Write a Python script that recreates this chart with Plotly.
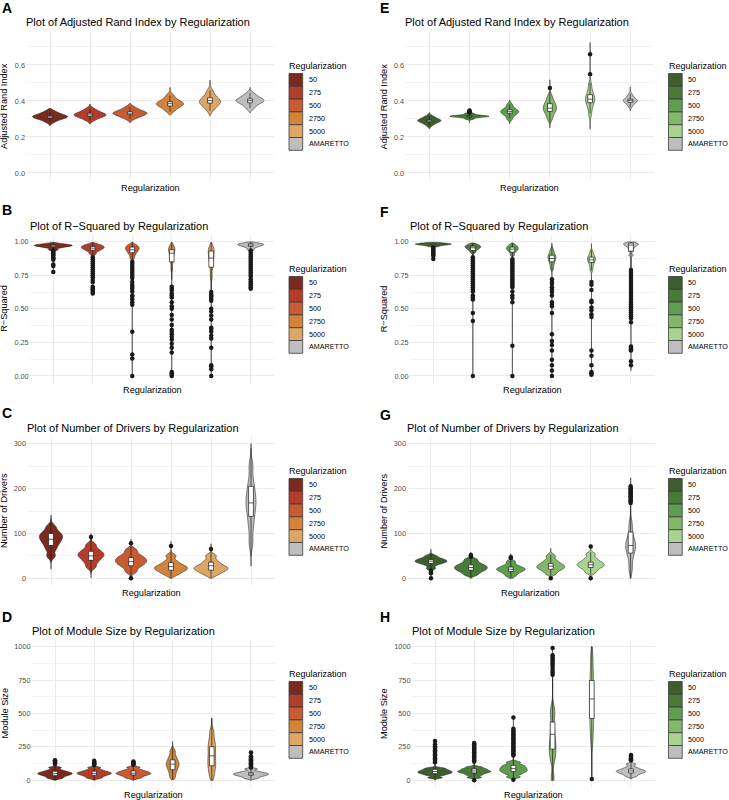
import plotly.graph_objects as go

W, H = 729, 800
FONT = "Liberation Sans, Arial, Helvetica, sans-serif"

CATEGORIES = ["50", "275", "500", "2750", "5000", "AMARETTO"]
RED_FILLS = ["#7A2A1F", "#B43C2A", "#C95B34", "#D4843A", "#DEA665", "#BEBEBE"]
GREEN_FILLS = ["#3E5E2F", "#487B35", "#5F9D4F", "#83B86A", "#A7D48F", "#BEBEBE"]

# Values. Samples shape each violin, SPAN is the
# min/max of each group, BOX is (lower whisker, q1, median, q3, upper whisker).

# A - Adjusted Rand Index, red runs
ARI_RED_SAMPLES = [
    [0.285, 0.298, 0.305, 0.310, 0.313, 0.316, 0.322, 0.330, 0.342],
    [0.295, 0.308, 0.315, 0.320, 0.323, 0.327, 0.333, 0.342, 0.355],
    [0.303, 0.315, 0.323, 0.328, 0.332, 0.336, 0.342, 0.350, 0.365],
    [0.345, 0.362, 0.372, 0.380, 0.385, 0.390, 0.397, 0.410, 0.430],
    [0.350, 0.370, 0.382, 0.390, 0.398, 0.405, 0.415, 0.430, 0.455],
    [0.360, 0.378, 0.390, 0.397, 0.402, 0.407, 0.414, 0.425, 0.440],
]
ARI_RED_SPAN = [(0.262, 0.358), (0.272, 0.383), (0.280, 0.386), (0.322, 0.476), (0.318, 0.516), (0.335, 0.475)]
ARI_RED_BOX = [(0.288, 0.305, 0.312, 0.318, 0.337), (0.292, 0.315, 0.323, 0.332, 0.357),
               (0.300, 0.324, 0.332, 0.341, 0.366), (0.340, 0.372, 0.385, 0.396, 0.430),
               (0.345, 0.388, 0.403, 0.418, 0.460), (0.360, 0.390, 0.402, 0.412, 0.445)]
ARI_RED_OUTLIERS = [[], [], [], [], [], []]

# E - Adjusted Rand Index, green runs
ARI_GREEN_SAMPLES = [
    [0.265, 0.277, 0.284, 0.288, 0.291, 0.294, 0.298, 0.305, 0.315],
    [0.300, 0.308, 0.312, 0.314, 0.315, 0.316, 0.318, 0.322, 0.330],
    [0.300, 0.318, 0.328, 0.335, 0.340, 0.345, 0.352, 0.362, 0.380],
    [0.300, 0.325, 0.340, 0.352, 0.362, 0.372, 0.385, 0.400, 0.425],
    [0.330, 0.365, 0.385, 0.400, 0.410, 0.420, 0.435, 0.455, 0.490],
    [0.370, 0.385, 0.393, 0.398, 0.402, 0.406, 0.412, 0.420, 0.435],
]
ARI_GREEN_SPAN = [(0.245, 0.335), (0.280, 0.350), (0.275, 0.405), (0.250, 0.518), (0.243, 0.725), (0.345, 0.478)]
ARI_GREEN_BOX = [(0.266, 0.284, 0.290, 0.296, 0.314), (0.300, 0.311, 0.315, 0.319, 0.330),
                 (0.305, 0.332, 0.342, 0.352, 0.380), (0.280, 0.342, 0.360, 0.385, 0.450),
                 (0.330, 0.390, 0.410, 0.435, 0.500), (0.365, 0.392, 0.402, 0.410, 0.440)]
ARI_GREEN_OUTLIERS = [[], [0.336, 0.340, 0.344, 0.347], [], [0.472], [0.548, 0.659], []]

# B - R-Squared, red runs
RSQ_RED_SAMPLES = [
    [0.940, 0.955, 0.962, 0.967, 0.970, 0.973, 0.976, 0.980, 0.986],
    [0.910, 0.930, 0.940, 0.948, 0.954, 0.960, 0.965, 0.972, 0.980],
    [0.880, 0.905, 0.920, 0.932, 0.942, 0.950, 0.958, 0.966, 0.978],
    [0.800, 0.850, 0.880, 0.900, 0.920, 0.935, 0.945, 0.955, 0.970],
    [0.740, 0.800, 0.840, 0.870, 0.890, 0.910, 0.930, 0.945, 0.960],
    [0.940, 0.955, 0.965, 0.970, 0.975, 0.978, 0.982, 0.986, 0.990],
]
RSQ_RED_SPAN = [(0.77, 0.995), (0.615, 0.995), (0.0, 0.995), (0.0, 0.995), (0.0, 0.995), (0.65, 0.998)]
RSQ_RED_BOX = [(0.940, 0.962, 0.970, 0.978, 0.995), (0.895, 0.937, 0.952, 0.965, 0.992),
               (0.860, 0.918, 0.940, 0.960, 0.995), (0.720, 0.850, 0.915, 0.940, 0.995),
               (0.630, 0.810, 0.878, 0.930, 0.995), (0.940, 0.965, 0.975, 0.985, 0.998)]
RSQ_RED_OUTLIERS = [
    [0.935, 0.925, 0.915, 0.905, 0.895, 0.885, 0.875, 0.865, 0.83, 0.82, 0.775],
    [0.885, 0.87, 0.855, 0.84, 0.825, 0.81, 0.795, 0.78, 0.765, 0.75, 0.735, 0.715, 0.70,
     0.665, 0.655, 0.645, 0.635, 0.625, 0.615],
    [0.85, 0.835, 0.82, 0.805, 0.79, 0.775, 0.76, 0.745, 0.73, 0.70, 0.68, 0.665, 0.65,
     0.63, 0.60, 0.59, 0.57, 0.55, 0.53, 0.33, 0.16, 0.13, 0.0],
    [0.665, 0.65, 0.635, 0.615, 0.60, 0.585, 0.55, 0.52, 0.50, 0.455, 0.42, 0.38, 0.345,
     0.33, 0.31, 0.29, 0.27, 0.24, 0.21, 0.175, 0.03, 0.02, 0.01, 0.0],
    [0.625, 0.61, 0.60, 0.59, 0.575, 0.56, 0.50, 0.48, 0.45, 0.42, 0.36, 0.35, 0.33, 0.30,
     0.28, 0.21, 0.08, 0.07, 0.05, 0.0],
    [0.935, 0.92, 0.905, 0.89, 0.875, 0.86, 0.845, 0.83, 0.815, 0.80, 0.785, 0.77, 0.755,
     0.74, 0.72, 0.705, 0.69, 0.675, 0.66, 0.65],
]

# F - R-Squared, green runs
RSQ_GREEN_SAMPLES = [
    [0.965, 0.972, 0.976, 0.979, 0.981, 0.983, 0.985, 0.988, 0.992],
    [0.920, 0.935, 0.945, 0.952, 0.958, 0.963, 0.968, 0.974, 0.982],
    [0.900, 0.920, 0.932, 0.940, 0.947, 0.953, 0.960, 0.968, 0.978],
    [0.800, 0.830, 0.850, 0.865, 0.877, 0.888, 0.900, 0.915, 0.940],
    [0.790, 0.820, 0.840, 0.855, 0.865, 0.875, 0.887, 0.900, 0.925],
    [0.900, 0.930, 0.950, 0.962, 0.972, 0.978, 0.983, 0.988, 0.993],
]
RSQ_GREEN_SPAN = [(0.87, 0.995), (0.0, 0.99), (0.0, 0.99), (0.0, 0.99), (0.0, 0.985), (0.04, 0.998)]
RSQ_GREEN_BOX = [(0.962, 0.976, 0.981, 0.986, 0.995), (0.900, 0.935, 0.955, 0.967, 0.990),
                 (0.880, 0.922, 0.945, 0.960, 0.990), (0.780, 0.850, 0.875, 0.900, 0.970),
                 (0.785, 0.845, 0.865, 0.885, 0.940), (0.800, 0.930, 0.975, 0.990, 0.998)]
RSQ_GREEN_OUTLIERS = [
    [0.955, 0.945, 0.935, 0.925, 0.915, 0.905, 0.895, 0.872],
    [0.885, 0.87, 0.855, 0.84, 0.825, 0.81, 0.795, 0.78, 0.765, 0.75, 0.735, 0.72, 0.705,
     0.69, 0.675, 0.66, 0.645, 0.63, 0.60, 0.585, 0.57, 0.47, 0.41, 0.0],
    [0.87, 0.855, 0.84, 0.825, 0.81, 0.795, 0.78, 0.765, 0.75, 0.735, 0.72, 0.705, 0.69,
     0.675, 0.66, 0.63, 0.60, 0.58, 0.55, 0.225, 0.0],
    [0.72, 0.70, 0.685, 0.66, 0.645, 0.625, 0.60, 0.55, 0.53, 0.52, 0.47, 0.31, 0.26, 0.23,
     0.19, 0.12, 0.08, 0.04, 0.0],
    [0.70, 0.68, 0.64, 0.56, 0.55, 0.51, 0.49, 0.46, 0.44, 0.19, 0.15, 0.08, 0.03, 0.02, 0.01],
    [0.79, 0.775, 0.76, 0.745, 0.73, 0.715, 0.70, 0.685, 0.67, 0.655, 0.64, 0.625, 0.61,
     0.595, 0.58, 0.565, 0.55, 0.535, 0.52, 0.505, 0.49, 0.475, 0.46, 0.445, 0.43, 0.40,
     0.22, 0.21, 0.20, 0.19, 0.11, 0.08],
]

# C - Number of Drivers, red runs
DRV_RED_SAMPLES = [
    [50, 65, 75, 82, 88, 93, 98, 104, 115],
    [25, 35, 42, 47, 51, 55, 59, 65, 75],
    [15, 25, 31, 35, 39, 43, 47, 53, 63],
    [8, 14, 18, 21, 24, 27, 31, 38, 50],
    [8, 14, 18, 21, 24, 27, 32, 39, 50],
    [80, 115, 138, 155, 168, 180, 195, 215, 250],
]
DRV_RED_SPAN = [(20, 141), (1, 100), (0, 87), (0, 82), (0, 77), (27, 300)]
DRV_RED_BOX = [(35, 73, 87, 100, 135), (12, 40, 50, 60, 88), (3, 28, 37, 46, 72),
               (1, 18, 26, 35, 60), (1, 18, 28, 36, 60), (50, 138, 168, 205, 290)]
DRV_RED_OUTLIERS = [[], [92], [78, 0], [72], [65], []]

# G - Number of Drivers, green runs
DRV_GREEN_SAMPLES = [
    [22, 30, 34, 36, 38, 40, 42, 45, 50],
    [8, 14, 18, 21, 24, 27, 30, 35, 42],
    [5, 11, 15, 18, 20, 22, 25, 29, 37],
    [10, 17, 21, 24, 27, 30, 34, 40, 50],
    [13, 20, 25, 28, 31, 34, 38, 44, 54],
    [20, 45, 60, 68, 75, 82, 95, 120, 190],
]
DRV_GREEN_SPAN = [(0, 65), (0, 58), (0, 55), (0, 67), (0, 75), (0, 224)]
DRV_GREEN_BOX = [(20, 33, 38, 42, 55), (2, 18, 24, 30, 46), (1, 15, 20, 25, 40),
                 (2, 20, 27, 33, 52), (6, 24, 30, 36, 58), (0, 56, 73, 103, 165)]
DRV_GREEN_OUTLIERS = [[17, 14, 11, 0], [48, 50, 52], [45, 47], [0], [71, 0],
                      [168, 171, 174, 177, 180, 183, 186, 189, 192, 195, 198, 201, 205]]

# D - Module Size, red runs
MOD_RED_SAMPLES = [
    [15, 28, 38, 45, 51, 57, 64, 75, 95],
    [17, 30, 40, 47, 53, 59, 66, 77, 95],
    [17, 30, 40, 47, 53, 60, 67, 78, 97],
    [25, 60, 85, 105, 120, 135, 155, 180, 220],
    [30, 80, 115, 150, 185, 225, 260, 300, 360],
    [15, 27, 35, 41, 46, 51, 57, 66, 85],
]
MOD_RED_SPAN = [(0, 150), (0, 146), (0, 141), (5, 290), (0, 468), (0, 208)]
MOD_RED_BOX = [(2, 35, 50, 68, 118), (3, 38, 52, 68, 110), (3, 40, 53, 70, 112),
               (5, 79, 121, 153, 260), (0, 109, 183, 252, 465), (5, 38, 48, 60, 92)]
MOD_RED_OUTLIERS = [
    [122, 128, 134, 140, 146, 150],
    [114, 120, 126, 132, 138, 146],
    [116, 122, 128, 134, 141],
    [], [],
    [96, 102, 108, 114, 120, 126, 132, 138, 144, 150, 156, 162, 168, 174, 180, 208],
]

# H - Module Size, green runs
MOD_GREEN_SAMPLES = [
    [20, 38, 48, 55, 61, 67, 74, 82, 92],
    [22, 40, 52, 60, 66, 72, 80, 88, 100],
    [25, 48, 62, 72, 82, 92, 103, 115, 135],
    [20, 150, 200, 240, 280, 330, 400, 480, 540],
    [300, 400, 460, 530, 600, 670, 740, 820, 930],
    [30, 45, 55, 62, 68, 74, 82, 95, 120],
]
MOD_GREEN_SPAN = [(0, 295), (0, 280), (0, 470), (0, 990), (10, 1000), (10, 190)]
MOD_GREEN_BOX = [(5, 50, 66, 82, 128), (5, 55, 70, 86, 132), (5, 65, 88, 112, 180),
                 (0, 233, 344, 436, 770), (30, 463, 609, 747, 1000), (12, 55, 70, 85, 140)]
MOD_GREEN_OUTLIERS = [
    [135, 145, 155, 165, 175, 185, 195, 205, 215, 225, 235, 245, 255, 270, 295],
    [140, 150, 160, 170, 180, 190, 200, 210, 220, 230, 240, 250, 260, 270, 280, 0],
    [185, 195, 205, 215, 225, 235, 245, 255, 265, 275, 285, 295, 305, 315, 325, 335, 345,
     355, 365, 375, 385, 470, 5],
    [790, 805, 820, 840, 860, 875, 890, 905, 920, 935, 990],
    [10],
    [150, 158, 166, 174, 182, 190],
]

# violin look: max width (category units) and kde bandwidth, per group
ARI_RED_WIDTH, ARI_RED_BW = [0.875, 0.8, 0.85, 0.68, 0.53, 0.7], [0.010, 0.011, 0.011, 0.013, 0.016, 0.012]
ARI_GREEN_WIDTH, ARI_GREEN_BW = [0.58, 0.97, 0.45, 0.33, 0.23, 0.35], [0.009, 0.004, 0.010, 0.016, 0.020, 0.010]
RSQ_RED_WIDTH, RSQ_RED_BW = [0.96, 0.58, 0.35, 0.16, 0.15, 0.66], [0.006, 0.010, 0.012, 0.020, 0.025, 0.007]
RSQ_GREEN_WIDTH, RSQ_GREEN_BW = [0.91, 0.4, 0.3, 0.2, 0.2, 0.38], [0.004, 0.008, 0.009, 0.015, 0.014, 0.008]
DRV_RED_WIDTH, DRV_RED_BW = [0.58, 0.65, 0.78, 0.83, 0.85, 0.25], [6, 5, 5, 4.5, 4.5, 15]
DRV_GREEN_WIDTH, DRV_GREEN_BW = [0.8, 0.82, 0.72, 0.7, 0.68, 0.25], [3, 3.5, 3.5, 4, 4, 12]
MOD_RED_WIDTH, MOD_RED_BW = [0.88, 0.88, 0.88, 0.33, 0.2, 0.9], [7, 7, 7, 18, 30, 6]
MOD_GREEN_WIDTH, MOD_GREEN_BW = [0.88, 0.85, 0.7, 0.17, 0.1, 0.75], [6, 6, 8, 40, 60, 8]

METRICS = {
    "ari": dict(title="Plot of Adjusted Rand Index by Regularization", ytitle="Adjusted Rand Index",
                yrange=[-0.039, 0.783], dtick=0.2, fmt=".1f"),
    "rsq": dict(title="Plot of R\u2212Squared by Regularization", ytitle="R\u2212Squared",
                yrange=[-0.05, 1.05], dtick=0.25, fmt=".2f"),
    "drv": dict(title="Plot of Number of Drivers by Regularization", ytitle="Number of Drivers",
                yrange=[-15, 315], dtick=100, fmt="d"),
    "mod": dict(title="Plot of Module Size by Regularization", ytitle="Module Size",
                yrange=[-50, 1050], dtick=250, fmt="d"),
}

# panel boxes in pixels: letter, metric, data, fills, (x0, x1), (top, bottom), letter y
PANELS = [
    ("A", "ari", (ARI_RED_SAMPLES, ARI_RED_SPAN, ARI_RED_BOX, ARI_RED_OUTLIERS, ARI_RED_WIDTH, ARI_RED_BW), RED_FILLS, (26, 274), (32, 180), 8),
    ("B", "rsq", (RSQ_RED_SAMPLES, RSQ_RED_SPAN, RSQ_RED_BOX, RSQ_RED_OUTLIERS, RSQ_RED_WIDTH, RSQ_RED_BW), RED_FILLS, (29.6, 274.4), (235, 382.7), 210),
    ("C", "drv", (DRV_RED_SAMPLES, DRV_RED_SPAN, DRV_RED_BOX, DRV_RED_OUTLIERS, DRV_RED_WIDTH, DRV_RED_BW), RED_FILLS, (27, 275), (437, 585), 413),
    ("D", "mod", (MOD_RED_SAMPLES, MOD_RED_SPAN, MOD_RED_BOX, MOD_RED_OUTLIERS, MOD_RED_WIDTH, MOD_RED_BW), RED_FILLS, (31.5, 274.5), (640, 787), 617),
    ("E", "ari", (ARI_GREEN_SAMPLES, ARI_GREEN_SPAN, ARI_GREEN_BOX, ARI_GREEN_OUTLIERS, ARI_GREEN_WIDTH, ARI_GREEN_BW), GREEN_FILLS, (405.2, 654.4), (32, 180), 8),
    ("F", "rsq", (RSQ_GREEN_SAMPLES, RSQ_GREEN_SPAN, RSQ_GREEN_BOX, RSQ_GREEN_OUTLIERS, RSQ_GREEN_WIDTH, RSQ_GREEN_BW), GREEN_FILLS, (409.6, 654.7), (235, 382.7), 212),
    ("G", "drv", (DRV_GREEN_SAMPLES, DRV_GREEN_SPAN, DRV_GREEN_BOX, DRV_GREEN_OUTLIERS, DRV_GREEN_WIDTH, DRV_GREEN_BW), GREEN_FILLS, (407, 654.6), (437, 585), 415),
    ("H", "mod", (MOD_GREEN_SAMPLES, MOD_GREEN_SPAN, MOD_GREEN_BOX, MOD_GREEN_OUTLIERS, MOD_GREEN_WIDTH, MOD_GREEN_BW), GREEN_FILLS, (411.5, 654.5), (640, 787), 617),
]


def px(x):
    return x / W


def py(y):
    return 1 - y / H


def note(text, x, y, size, xanchor="left", **kw):
    return dict(text=text, x=px(x), y=py(y), xref="paper", yref="paper",
                xanchor=xanchor, yanchor="middle", showarrow=False,
                xshift=-2 if xanchor == "left" else 0,
                font=dict(size=size, color="black"), **kw)


fig = go.Figure()
layout = {}
annotations = []
shapes = []

for n, (letter, metric, data, fills, (x0, x1), (top, bottom), letter_y) in enumerate(PANELS, start=1):
    samples, spans, boxes, outliers, widths, bws = data
    m = METRICS[metric]
    sfx = "" if n == 1 else str(n)
    xa, ya = "x" + sfx, "y" + sfx
    right = x0 > 364

    for i, cat in enumerate(CATEGORIES):
        s = samples[i]
        fig.add_trace(go.Violin(
            x=[cat] * len(s), y=s, xaxis=xa, yaxis=ya,
            fillcolor=fills[i], line=dict(color="#2E2E2E", width=0.6),
            bandwidth=bws[i], spanmode="manual", span=list(spans[i]),
            scalemode="width", width=widths[i], points=False,
            hoverinfo="skip", showlegend=False,
        ))
        lo, q1, med, q3, hi = boxes[i]
        fig.add_trace(go.Box(
            x=[cat], q1=[q1], median=[med], q3=[q3], lowerfence=[lo], upperfence=[hi],
            xaxis=xa, yaxis=ya, width=0.12, whiskerwidth=0, boxpoints=False,
            fillcolor="white", line=dict(color="#1A1A1A", width=0.7),
            hoverinfo="skip", showlegend=False,
        ))
        if outliers[i]:
            fig.add_trace(go.Scatter(
                x=[cat] * len(outliers[i]), y=outliers[i], xaxis=xa, yaxis=ya,
                mode="markers", marker=dict(color="#1A1A1A", size=4.5),
                hoverinfo="skip", showlegend=False,
            ))

    layout["xaxis" + sfx] = dict(
        domain=[px(x0), px(x1)], anchor=ya, type="category",
        categoryorder="array", categoryarray=CATEGORIES, range=[-0.6, 5.6],
        showticklabels=False, ticks="", showgrid=True, gridcolor="#EBEBEB", gridwidth=1,
        zeroline=False, showline=False, fixedrange=True,
    )
    layout["yaxis" + sfx] = dict(
        domain=[py(bottom), py(top)], anchor=xa, range=m["yrange"],
        tick0=0, dtick=m["dtick"], tickformat=m["fmt"], ticks="",
        tickfont=dict(size=7.3, color="#4D4D4D"),
        showgrid=True, gridcolor="#EBEBEB", gridwidth=1, zeroline=False, showline=False,
        minor=dict(tick0=0, dtick=m["dtick"] / 2, showgrid=True, gridcolor="#F3F3F3", gridwidth=0.6),
        fixedrange=True,
    )

    # panel letter, title and axis titles
    annotations.append(note("<b>" + letter + "</b>", 380 if right else 1.5, letter_y, 14))
    annotations.append(note(m["title"], x0, top - 9.5, 11))
    annotations.append(note(m["ytitle"], 383.5 if right else 4, (top + bottom) / 2, 9.2,
                            xanchor="center", textangle=-90))
    annotations.append(note("Regularization", (x0 + x1) / 2, bottom + 7.5, 9.2, xanchor="center"))

    # legend: title, swatches and labels
    lx = 668.5 if right else 289
    ly = top + 34
    annotations.append(note("Regularization", lx, ly, 9))
    for i, cat in enumerate(CATEGORIES):
        s_top = ly + 7.5 + 12.8 * i
        shapes.append(dict(type="rect", xref="paper", yref="paper",
                           x0=px(lx), x1=px(lx + 13.7), y0=py(s_top + 12.8), y1=py(s_top),
                           fillcolor=fills[i], line=dict(color="#3A3A3A", width=0.8)))
        annotations.append(note(cat, lx + 19.5, s_top + 6.4, 7.2))

fig.update_layout(
    width=W, height=H, margin=dict(l=0, r=0, t=0, b=0),
    paper_bgcolor="white", plot_bgcolor="white",
    font=dict(family=FONT, color="black"),
    showlegend=False, violinmode="overlay", boxmode="overlay",
    annotations=annotations, shapes=shapes, **layout,
)

# the page body has a default 8px margin; drop it so the figure fills the window
fig.write_html("out.html", config={"displayModeBar": False},
               post_script="document.body.style.margin = '0px';")
